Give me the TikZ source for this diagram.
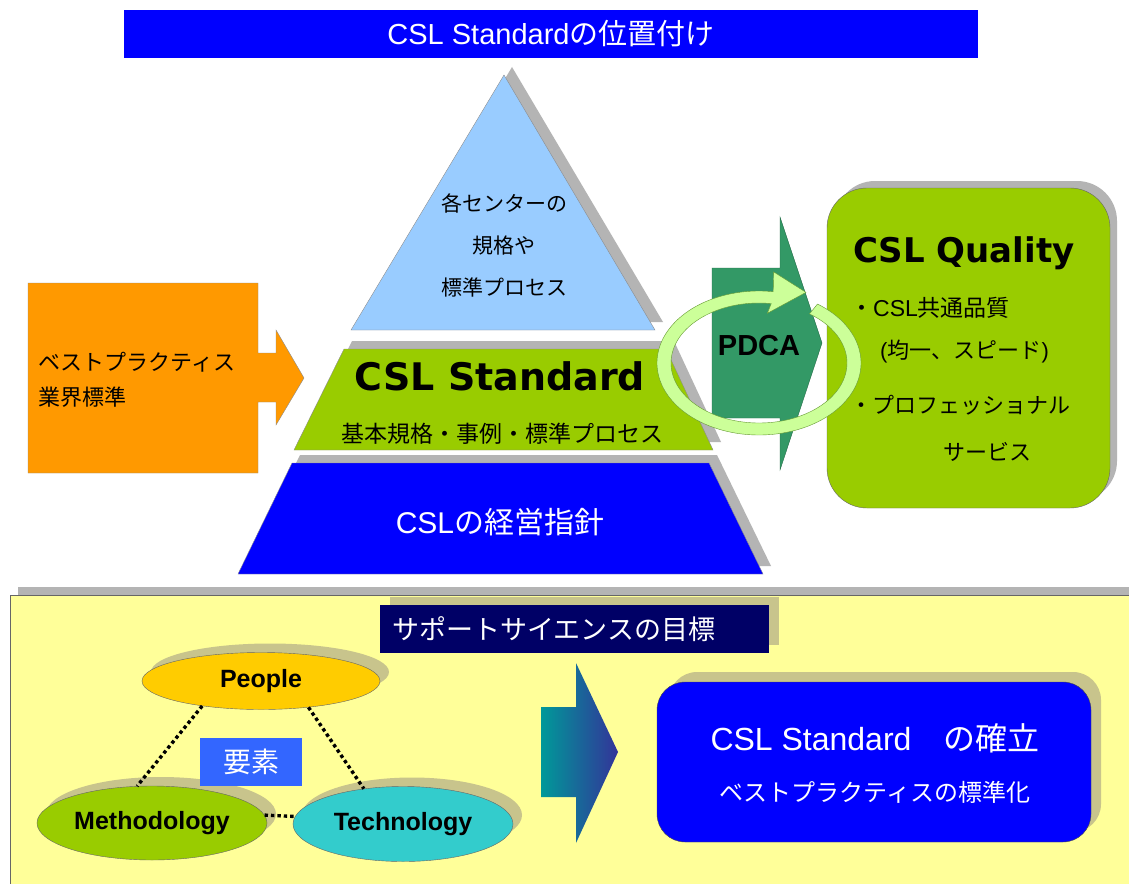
\documentclass[tikz,border=0pt]{standalone}
\usepackage{fontspec}
\setmainfont{Liberation Sans}
\newfontfamily\jp{Noto Sans CJK JP}
\newfontfamily\heavy{DejaVu Sans}
\usetikzlibrary{shapes.geometric,shadows,calc}
\definecolor{cslblue}{HTML}{0000FF}
\definecolor{skyblue}{HTML}{99CCFF}
\definecolor{leafgreen}{HTML}{99CC00}
\definecolor{pdcagreen}{HTML}{339966}
\definecolor{ringgreen}{HTML}{CCFF99}
\definecolor{ringedge}{HTML}{669933}
\definecolor{orangebox}{HTML}{FF9900}
\definecolor{shadegray}{HTML}{B4B4B4}
\definecolor{paleyellow}{HTML}{FFFF99}
\definecolor{shadeyel}{HTML}{C8C48C}
\definecolor{navybox}{HTML}{000066}
\definecolor{peoplegold}{HTML}{FFCC00}
\definecolor{techcyan}{HTML}{33CCCC}
\definecolor{elemblue}{HTML}{3366FF}
\definecolor{arrowteal}{HTML}{009999}
\definecolor{arrownavy}{HTML}{333399}
\tikzset{
  lbl/.style={inner sep=0pt, font=\fontsize{#1}{#1}\selectfont},
  jplbl/.style={inner sep=0pt, font=\jp\fontsize{#1}{#1}\selectfont},
  softshadow/.style={drop shadow={shadow xshift=9pt, shadow yshift=9pt, fill=shadeyel, opacity=1}},
  bubble/.style={ellipse, draw=black!60, softshadow, inner sep=0pt, font=\bfseries\fontsize{25}{25}\selectfont},
  edge/.style={draw=black!45},
  dotlink/.style={line width=3.4pt, dash pattern=on 3.4pt off 3pt}
}

\begin{document}
\begin{tikzpicture}[x=1pt, y=-1pt]
  \useasboundingbox (0,0) rectangle (1129,883);
  \fill[white] (0,0) rectangle (1129,883);

  %% Title banner
  \node[fill=cslblue, minimum width=854, minimum height=48, text=white, font=\fontsize{29}{29}\selectfont] (banner) at (551,34) {CSL Standard{\jp の位置付け}};

  %% Pyramid layers with shadows
  \fill[shadegray] (512,67) -- (663,322) -- (359,322) -- cycle;
  \filldraw[fill=skyblue, edge] (504,75) -- (655,330) -- (351,330) -- cycle;
  \fill[shadegray] (352,341) -- (674,341) -- (721,442) -- (302,442) -- cycle;
  \filldraw[fill=leafgreen, edge] (344,349) -- (666,349) -- (713,450) -- (294,450) -- cycle;
  \fill[shadegray] (300,455) -- (717,455) -- (771,566) -- (246,566) -- cycle;
  \filldraw[fill=cslblue, edge] (292,463) -- (709,463) -- (763,574) -- (238,574) -- cycle;

  \node[align=center, inner sep=0pt, font=\jp\fontsize{21}{42}\selectfont] (centers) at (504,245) {各センターの\\規格や\\標準プロセス};
  \node[inner sep=0pt, font=\heavy\bfseries\fontsize{38}{38}\selectfont] (standard) at (500,376) {CSL Standard};
  \node[jplbl=23] (basics) at (502,434) {基本規格・事例・標準プロセス};
  \node[lbl=30, text=white] (policy) at (500,522) {CSL{\jp の経営指針}};

  %% Best practice input arrow
  \filldraw[fill=orangebox, edge] (28,283) -- (258,283) -- (258,353) -- (276,353) -- (276,330) -- (304,378) -- (276,425) -- (276,402) -- (258,402) -- (258,473) -- (28,473) -- cycle;
  \node[anchor=west, align=left, inner sep=0pt, font=\jp\fontsize{22}{35}\selectfont] (bestpr) at (38,380) {ベストプラクティス\\業界標準};

  %% PDCA arrow
  \filldraw[fill=pdcagreen, draw=pdcagreen!70!black] (712,268) -- (780,268) -- (780,217) -- (822,343) -- (780,470) -- (780,418) -- (712,418) -- cycle;
  \node[inner sep=0pt, font=\bfseries\fontsize{29}{29}\selectfont] (pdca) at (759,346) {PDCA};

  %% CSL Quality box
  \fill[shadegray, rounded corners=40] (835,181) rectangle (1117,501);
  \filldraw[fill=leafgreen, draw=black!60, rounded corners=40] (827,188) rectangle (1110,508);
  \node[inner sep=0pt, font=\heavy\bfseries\fontsize{34}{34}\selectfont] (quality) at (964,253) {CSL Quality};
  \node[lbl=23, anchor=west] (common) at (850,308) {{\jp ・}CSL{\jp 共通品質}};
  \node[lbl=22, anchor=west] (uniform) at (880,352) {({\jp 均一、スピード})};
  \node[jplbl=22, anchor=west] (profsv) at (850,405) {・プロフェッショナル};
  \node[jplbl=22, anchor=west] (service) at (943,452) {サービス};

  %% PDCA cycle ring
  \coordinate (ringc) at (759,363);
  \filldraw[fill=ringgreen, draw=ringedge]
    ($(ringc)+(-55:102 and 72)$) arc[start angle=-55, end angle=278, x radius=102, y radius=72]
    -- ($(ringc)+(278:105 and 92)$) -- ($(ringc)+(298:100 and 80)$) -- ($(ringc)+(276:80 and 50)$)
    -- ($(ringc)+(278:88 and 60)$) arc[start angle=278, end angle=-55, x radius=88, y radius=60] -- cycle;

  %% Support science panel
  \fill[shadegray] (18,587) rectangle (1140,890);
  \filldraw[fill=paleyellow, draw=black!60] (10,595) rectangle (1145,895);

  \fill[shadeyel] (390,597) rectangle (779,645);
  \node[fill=navybox, anchor=west, minimum height=48, text width=365, inner xsep=12, align=left, text=white, font=\jp\fontsize{27}{27}\selectfont] (goal) at (380,629) {サポートサイエンスの目標};

  %% Elements
  \node[bubble, fill=peoplegold, minimum width=238, minimum height=57] (people) at (261,681) {People};
  \node[bubble, fill=leafgreen, minimum width=230, minimum height=74] (method) at (152,823) {Methodology};
  \node[bubble, fill=techcyan, minimum width=220, minimum height=75] (tech) at (403,824) {Technology};
  \draw[dotlink] (people.203) -- (method.112);
  \draw[dotlink] (people.331) -- (tech.138);
  \draw[dotlink] (method.4) -- (tech.176);
  \node[fill=elemblue, minimum width=102, minimum height=48, text=white, font=\jp\fontsize{28}{28}\selectfont] (element) at (251,762) {要素};

  %% Result arrow
  \shade[left color=arrowteal, right color=arrownavy] (541,707) -- (576,707) -- (576,663) -- (618,752) -- (576,843) -- (576,797) -- (541,797) -- cycle;

  %% CSL Standard establishment box
  \fill[shadeyel, rounded corners=28] (669,672) rectangle (1101,832);
  \filldraw[fill=cslblue, draw=black!70, rounded corners=28] (657,682) rectangle (1091,842);
  \node[lbl=32, text=white] (establish) at (875,738) {CSL Standard{\jp 　の確立}};
  \node[jplbl=24, text=white] (bestst) at (875,792) {ベストプラクティスの標準化};
\end{tikzpicture}
\end{document}
